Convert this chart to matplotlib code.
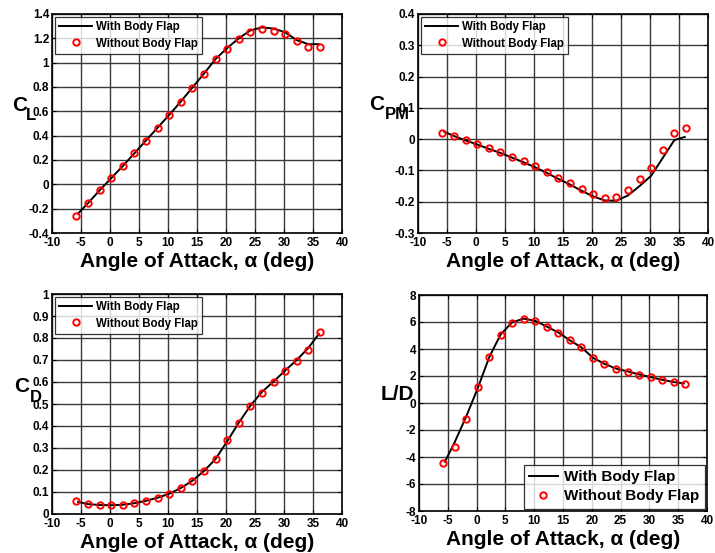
import numpy as np
import matplotlib.pyplot as plt

# angle of attack (deg)
alpha = [-5.8, -3.8, -1.8, 0.2, 2.2, 4.2, 6.2, 8.2, 10.2, 12.2, 14.2,
         16.2, 18.2, 20.2, 22.2, 24.2, 26.2, 28.2, 30.2, 32.2, 34.2, 36.2]
alpha_line = [-5.5, -3.8, -1.8, 0.2, 2.2, 4.2, 6.2, 8.2, 10.2, 12.2, 14.2,
              16.2, 18.2, 20.2, 22.2, 24.2, 26.2, 28.2, 30.2, 32.2, 34.2, 36.0]

# without body flap (markers)
cl_off = [-0.26, -0.155, -0.05, 0.05, 0.15, 0.255, 0.36, 0.465, 0.57, 0.68, 0.795,
          0.91, 1.03, 1.115, 1.197, 1.255, 1.275, 1.262, 1.234, 1.174, 1.128, 1.125]
cpm_off = [0.021, 0.010, -0.003, -0.015, -0.029, -0.041, -0.056, -0.071, -0.087, -0.106, -0.124,
           -0.140, -0.159, -0.176, -0.188, -0.184, -0.162, -0.128, -0.091, -0.036, 0.021, 0.037]
cd_off = [0.059, 0.046, 0.043, 0.041, 0.043, 0.050, 0.061, 0.075, 0.093, 0.119, 0.152,
          0.196, 0.252, 0.337, 0.413, 0.490, 0.551, 0.598, 0.648, 0.695, 0.746, 0.826]
ld_off = [-4.45, -3.25, -1.22, 1.2, 3.4, 5.07, 5.95, 6.2, 6.04, 5.64, 5.22,
          4.63, 4.12, 3.32, 2.88, 2.53, 2.33, 2.1, 1.9, 1.7, 1.53, 1.42]

# with body flap (line)
cl_on = [-0.24, -0.155, -0.05, 0.05, 0.15, 0.255, 0.36, 0.465, 0.57, 0.68, 0.795,
         0.91, 1.03, 1.12, 1.2, 1.265, 1.29, 1.28, 1.25, 1.185, 1.152, 1.152]
cpm_on = [0.024, 0.010, -0.004, -0.017, -0.031, -0.044, -0.059, -0.074, -0.090, -0.108, -0.127,
          -0.145, -0.165, -0.183, -0.196, -0.197, -0.180, -0.150, -0.117, -0.060, -0.003, 0.007]
cd_on = [0.055, 0.045, 0.041, 0.040, 0.042, 0.049, 0.060, 0.074, 0.092, 0.118, 0.151,
         0.195, 0.250, 0.330, 0.415, 0.492, 0.555, 0.602, 0.652, 0.700, 0.755, 0.818]
ld_on = [-4.35, -2.9, -1.0, 1.1, 3.4, 5.1, 5.98, 6.25, 6.08, 5.66, 5.22,
         4.64, 4.12, 3.35, 2.9, 2.55, 2.34, 2.12, 1.92, 1.72, 1.55, 1.45]

plt.rcParams['font.family'] = ['Liberation Sans', 'DejaVu Sans']
plt.rcParams['font.weight'] = 'bold'
plt.rcParams['axes.unicode_minus'] = False

W, H = 715, 553
fig = plt.figure(figsize=(W / 100, H / 100), dpi=100)


def px_axes(x0, y0, x1, y1):
    return fig.add_axes([x0 / W, 1 - y1 / H, (x1 - x0) / W, (y1 - y0) / H])


def fmt(v, p):
    if abs(v) < 1e-9:
        return '0'
    return '%g' % round(v, 3)


def setup(ax, ylim, ystep):
    ax.set_xlim(-10, 40)
    ax.set_ylim(*ylim)
    ax.set_xticks(np.arange(-10, 41, 5))
    ax.set_yticks(np.arange(ylim[0], ylim[1] + ystep / 2, ystep))
    ax.yaxis.set_major_formatter(plt.FuncFormatter(fmt))
    ax.grid(True, color='#3a3a3a', linewidth=1.0)
    ax.set_axisbelow(True)
    ax.tick_params(direction='in', length=3, width=0.8, labelsize=8.5,
                   top=True, right=True)
    ax.tick_params(axis='x', pad=3)
    ax.tick_params(axis='y', pad=2)
    for lab in ax.get_xticklabels() + ax.get_yticklabels():
        lab.set_fontweight('bold')
    for s in ax.spines.values():
        s.set_linewidth(1.2)
    ax.set_xlabel('Angle of Attack, α (deg)', fontsize=15, fontweight='bold', labelpad=2)


def draw(ax, y_on, y_off):
    ax.plot(alpha_line, y_on, color='black', lw=1.4, label='With Body Flap')
    ax.plot(alpha, y_off, 'o', mfc='none', mec='red', mew=1.4, ms=4.6,
            label='Without Body Flap')


def legend(ax, loc, size, hl, pad):
    lg = ax.legend(loc=loc, fontsize=size, frameon=True, fancybox=False,
                   edgecolor='black', handlelength=hl, borderpad=0.35,
                   labelspacing=0.35, handletextpad=0.4, borderaxespad=pad)
    lg.get_frame().set_linewidth(0.9)


ax1 = px_axes(52, 14, 342, 233)
draw(ax1, cl_on, cl_off)
setup(ax1, (-0.4, 1.4), 0.2)
legend(ax1, 'upper left', 8.3, 2.8, 0.3)

ax2 = px_axes(418, 14, 708, 233)
draw(ax2, cpm_on, cpm_off)
setup(ax2, (-0.3, 0.4), 0.1)
legend(ax2, 'upper left', 8.3, 2.8, 0.3)

ax3 = px_axes(52, 294, 342, 514)
draw(ax3, cd_on, cd_off)
setup(ax3, (0, 1.0), 0.1)
legend(ax3, 'upper left', 8.3, 2.8, 0.3)

ax4 = px_axes(419, 295, 707, 511)
draw(ax4, ld_on, ld_off)
setup(ax4, (-8, 8), 2)
legend(ax4, 'lower right', 11, 1.9, 0.15)

# y labels drawn as big C with a near full-size subscript
def ylab(x, y, text, size=15):
    fig.text(x / W, 1 - y / H, text, fontsize=size, fontweight='bold',
             ha='left', va='center')

ylab(12, 106, 'C')
ylab(26, 116, 'L', 12)
ylab(369, 105, 'C')
ylab(385, 114, 'PM', 12)
ylab(14, 387, 'C')
ylab(30, 397, 'D', 12)
ylab(381, 395, 'L/D')

fig.savefig('out.png', dpi=100)
